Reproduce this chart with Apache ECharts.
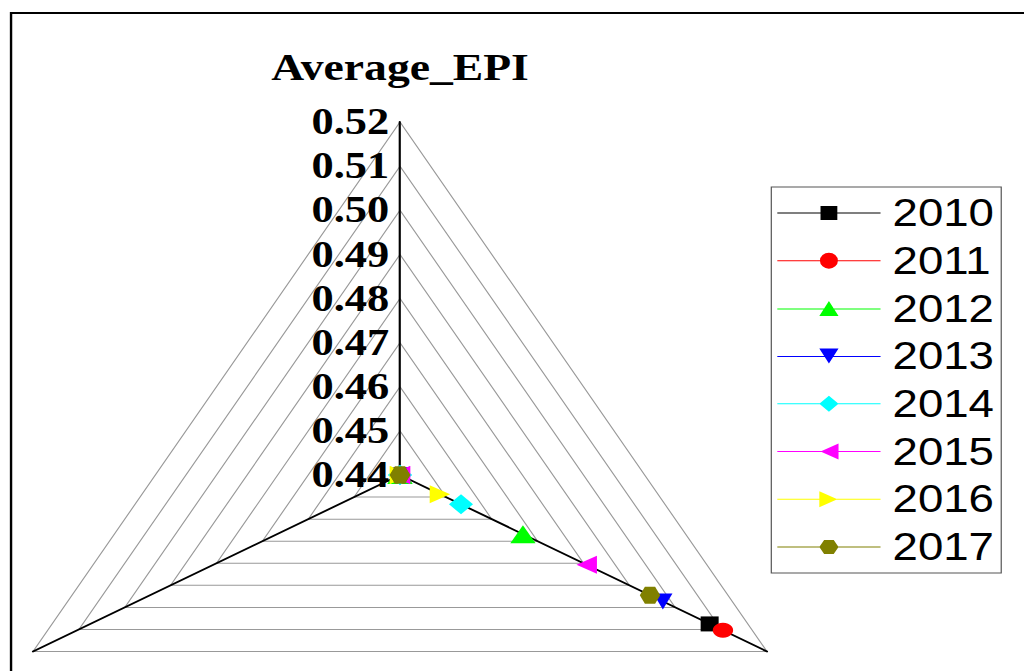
<!DOCTYPE html>
<html>
<head>
<meta charset="utf-8">
<script src="https://cdn.jsdelivr.net/npm/echarts@6/dist/echarts.min.js"></script>
<style>
html,body{margin:0;padding:0;background:#fff;overflow:hidden;width:1024px;height:671px;}
#main{width:853px;height:671px;transform:scaleX(1.20047);transform-origin:0 0;}
</style>
</head>
<body>
<div id="main"></div>
<script>
// ---- data ----
const axisNames = ['Average_EPI', '', ''];
const axisMin = 0.44;
const axisMax = 0.52;
const tickLabels = ['0.44', '0.45', '0.46', '0.47', '0.48', '0.49', '0.50', '0.51', '0.52'];
const years = ['2010', '2011', '2012', '2013', '2014', '2015', '2016', '2017'];
const topValues = [0.44, 0.44, 0.44, 0.44, 0.44, 0.44, 0.44, 0.44];
const leftValues = [0.44, 0.44, 0.44, 0.44, 0.44, 0.44, 0.44, 0.44];
const rightValues = [0.5075, 0.5104, 0.4668, 0.4973, 0.4533, 0.4807, 0.4487, 0.4945];

// ---- styles ----
const colors = ['#000000', '#ff0000', '#00ff00', '#0000ff', '#00ffff', '#ff00ff', '#ffff00', '#808000'];
const symbols = [
  'rect',
  'circle',
  'triangle',
  'path://M0,0 L16,0 L8,15 Z',
  'diamond',
  'path://M16,0 L16,16 L0,8 Z',
  'path://M0,0 L16,8 L0,16 Z',
  'path://M4,0 L12,0 L16,8 L12,16 L4,16 L0,8 Z'
];
const symbolSizes = [[15, 15], [17, 15], [21, 18], [16, 16], [20, 20], [17, 18], [17, 18], [17, 17]];
const lineParts = 'M0,7.5 L33,7.5 L33,8.5 L0,8.5 Z M53,7.5 L86,7.5 L86,8.5 L53,8.5 Z M33,7.5 L53,7.5 L53,8.5 L33,8.5 Z ';
const legendMarks = [
  'M36,1 L50,1 L50,15 L36,15 Z',
  'M43,0 A7.5,8 0 1 1 43,16 A7.5,8 0 1 1 43,0 Z',
  'M43,0 L51,15 L35,15 Z',
  'M35,0 L51,0 L43,15 Z',
  'M43,0 L51,8 L43,16 L35,8 Z',
  'M51,0 L51,16 L36,8 Z',
  'M35,0 L50,8 L35,16 Z',
  'M39,1 L47,1 L51,8 L47,15 L39,15 L35,8 Z'
];

const chart = echarts.init(document.getElementById('main'), null, {renderer: 'svg'});

const series = years.map((y, i) => ({
  type: 'radar',
  name: y,
  symbol: symbols[i],
  symbolSize: symbolSizes[i],
  itemStyle: {color: colors[i]},
  lineStyle: {width: 0},
  data: [{name: y, value: [topValues[i], leftValues[i], rightValues[i]]}]
}));

chart.setOption({
  animation: false,
  backgroundColor: '#ffffff',
  graphic: [{
    type: 'rect', z: -10,
    shape: {x: 9.2, y: 13, width: 1200, height: 900},
    style: {fill: 'none', stroke: '#000', lineWidth: 2}
  }],
  legend: {
    orient: 'vertical',
    left: 642.5,
    top: 187,
    padding: [7, 6, 7, 5],
    itemGap: 9.7,
    itemWidth: 86,
    itemHeight: 16,
    borderColor: '#555',
    borderWidth: 1,
    data: years.map((y, i) => ({name: y, icon: 'path://' + lineParts + legendMarks[i]})),
    textStyle: {fontFamily: 'Liberation Sans', fontSize: 38, color: '#000', padding: [0, 0, 0, 5]}
  },
  radar: {
    center: [333.2, 475],
    radius: 353,
    startAngle: 90,
    shape: 'polygon',
    splitNumber: tickLabels.length - 1,
    nameGap: 36,
    indicator: axisNames.map((n, i) => {
      const o = {name: n, min: axisMin, max: axisMax};
      if (i === 0) o.axisLabel = {show: true};
      return o;
    }),
    axisName: {color: '#000', fontFamily: 'Liberation Serif', fontWeight: 'bold', fontSize: 38},
    axisLine: {lineStyle: {color: '#000', width: 1.8}},
    axisTick: {show: false},
    axisLabel: {
      show: false, color: '#000', fontFamily: 'Liberation Serif', fontWeight: 'bold', fontSize: 37, margin: 9,
      formatter: v => tickLabels[Math.round((v - axisMin) * 100)]
    },
    splitLine: {lineStyle: {color: '#999', width: 1}},
    splitArea: {show: false}
  },
  series: series
});
</script>
</body>
</html>
